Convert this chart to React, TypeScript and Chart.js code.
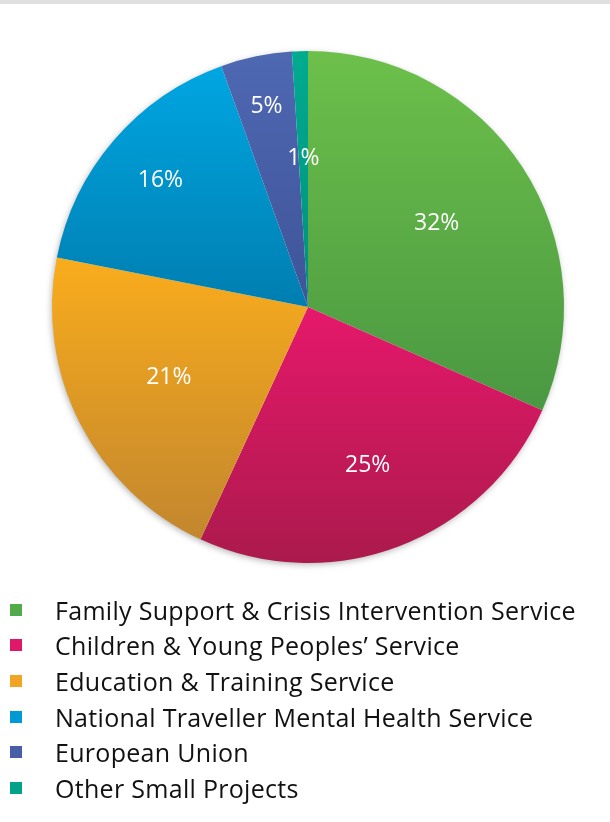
import React, { useEffect, useRef } from "react";
import { Chart, registerables } from "chart.js";

Chart.register(...registerables);

const categories = [
  "Family Support & Crisis Intervention Service",
  "Children & Young Peoples’ Service",
  "Education & Training Service",
  "National Traveller Mental Health Service",
  "European Union",
  "Other Small Projects",
];
const shares = [31.6, 25.3, 21.2, 16.4, 4.5, 1.0];
const shareLabels = ["32%", "25%", "21%", "16%", "5%", "1%"];

const topColors = ["#6cc04a", "#e6186b", "#f9ac1c", "#00a6e2", "#4e68b2", "#00ab90"];
const bottomColors = ["#4a9842", "#ab1a4c", "#c2862e", "#007eb0", "#3f5499", "#00907c"];
const legendColors = ["#53aa4b", "#e0186a", "#f2a424", "#0099d6", "#4a5ea8", "#00a28a"];
const labelRadius = [0.6, 0.66, 0.61, 0.76, 0.8, 0.58];

const FONT = "'Open Sans', Lato, sans-serif";

function sliceYRange(i: number, cy: number, r: number) {
  const total = shares.reduce((a, b) => a + b, 0);
  let start = -Math.PI / 2;
  for (let k = 0; k < i; k++) start += (shares[k] / total) * Math.PI * 2;
  const end = start + (shares[i] / total) * Math.PI * 2;
  const ys = [0, Math.sin(start), Math.sin(end)];
  const includes = (a: number) => {
    for (let t = a - 4 * Math.PI; t <= a + 4 * Math.PI; t += 2 * Math.PI) {
      if (t >= start && t <= end) return true;
    }
    return false;
  };
  if (includes(-Math.PI / 2)) ys.push(-1);
  if (includes(Math.PI / 2)) ys.push(1);
  return [cy + Math.min(...ys) * r, cy + Math.max(...ys) * r];
}

export default function App() {
  const ref = useRef<HTMLCanvasElement | null>(null);

  useEffect(() => {
    document.body.style.margin = "0";
    const canvas = ref.current;
    if (!canvas) return;

    const shadowPlugin = {
      id: "pieShadow",
      beforeDatasetsDraw(chart: any) {
        const meta = chart.getDatasetMeta(0);
        const arc = meta.data[0];
        if (!arc) return;
        const { x, y, outerRadius } = arc.getProps(["x", "y", "outerRadius"], true);
        const ctx = chart.ctx;
        ctx.save();
        ctx.shadowColor = "rgba(0,0,0,0.35)";
        ctx.shadowBlur = 7;
        ctx.shadowOffsetX = -1;
        ctx.shadowOffsetY = 2;
        ctx.fillStyle = "#ffffff";
        ctx.beginPath();
        ctx.arc(x, y, outerRadius - 1, 0, Math.PI * 2);
        ctx.fill();
        ctx.restore();
      },
    };

    const labelPlugin = {
      id: "sliceLabels",
      afterDatasetsDraw(chart: any) {
        const meta = chart.getDatasetMeta(0);
        const ctx = chart.ctx;
        ctx.save();
        ctx.fillStyle = "#ffffff";
        ctx.font = `23px ${FONT}`;
        ctx.textAlign = "center";
        ctx.textBaseline = "middle";
        meta.data.forEach((arc: any, i: number) => {
          const p = arc.getProps(["x", "y", "startAngle", "endAngle", "outerRadius"], true);
          const mid = (p.startAngle + p.endAngle) / 2;
          const r = p.outerRadius * labelRadius[i];
          ctx.fillText(shareLabels[i], p.x + Math.cos(mid) * r, p.y + Math.sin(mid) * r);
        });
        ctx.restore();
      },
    };

    const chart = new Chart(canvas, {
      type: "pie",
      data: {
        labels: categories,
        datasets: [
          {
            data: shares,
            borderWidth: 0,
            backgroundColor: (c: any) => {
              const area = c.chart.chartArea;
              const i = c.dataIndex;
              if (!area) return topColors[i];
              const cy = (area.top + area.bottom) / 2;
              const r = Math.min(area.right - area.left, area.bottom - area.top) / 2;
              const [y0, y1] = sliceYRange(i, cy, r);
              const g = c.chart.ctx.createLinearGradient(0, y0, 0, y1);
              g.addColorStop(0, topColors[i]);
              g.addColorStop(1, bottomColors[i]);
              return g;
            },
          },
        ],
      },
      options: {
        responsive: false,
        animation: false,
        layout: { padding: { left: 52, right: 46, top: 51, bottom: 259 } },
        plugins: {
          legend: { display: false },
          tooltip: { enabled: false },
        },
      },
      plugins: [shadowPlugin, labelPlugin],
    });
    return () => chart.destroy();
  }, []);

  return (
    <div style={{ position: "relative", width: 610, height: 822, background: "#fff", overflow: "hidden" }}>
      <div style={{ position: "absolute", left: 0, top: 0, width: 610, height: 4, background: "#e0e0e0" }} />
      <canvas ref={ref} width={610} height={822} style={{ position: "absolute", left: 0, top: 0 }} />
      <div style={{ position: "absolute", left: 0, top: 592, width: 610 }}>
        {categories.map((c, i) => (
          <div
            key={c}
            style={{
              position: "relative",
              height: 35.6,
              display: "flex",
              alignItems: "center",
              fontFamily: FONT,
              fontSize: 25,
              letterSpacing: 0.3,
              color: "#111",
            }}
          >
            <span
              style={{
                position: "absolute",
                left: 10,
                width: 12,
                height: 12,
                background: legendColors[i],
              }}
            />
            <span style={{ position: "absolute", left: 55, whiteSpace: "nowrap" }}>{c}</span>
          </div>
        ))}
      </div>
    </div>
  );
}
